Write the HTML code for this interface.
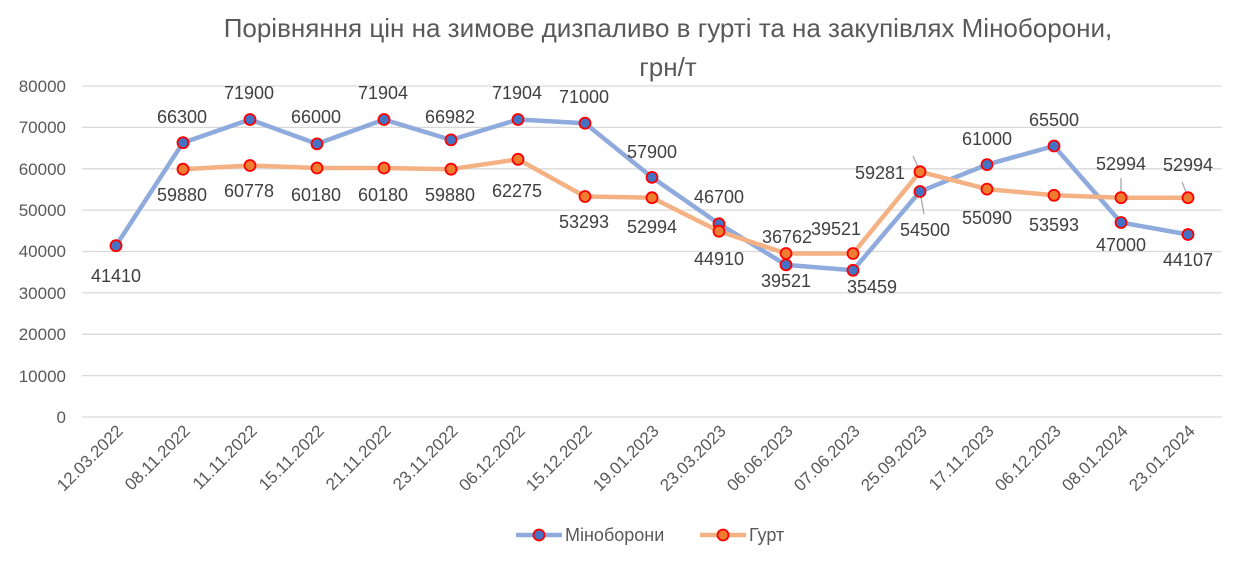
<!DOCTYPE html>
<html><head><meta charset="utf-8"><style>
body{margin:0;background:#fff;}
svg text{font-family:"Liberation Sans",sans-serif;}
</style></head><body>
<svg width="1236" height="556" viewBox="0 0 1236 556" xmlns="http://www.w3.org/2000/svg">
<rect width="1236" height="556" fill="#fff"/>
<text x="668" y="37" font-size="26" fill="#595959" text-anchor="middle">Порівняння цін на зимове дизпаливо в гурті та на закупівлях Міноборони,</text>
<text x="668" y="76" font-size="26" fill="#595959" text-anchor="middle">грн/т</text>
<g stroke="#d9d9d9" stroke-width="1.3">
<line x1="82" x2="1222" y1="86" y2="86"/><line x1="82" x2="1222" y1="127.4" y2="127.4"/>
<line x1="82" x2="1222" y1="168.8" y2="168.8"/><line x1="82" x2="1222" y1="210.1" y2="210.1"/>
<line x1="82" x2="1222" y1="251.5" y2="251.5"/><line x1="82" x2="1222" y1="292.9" y2="292.9"/>
<line x1="82" x2="1222" y1="334.3" y2="334.3"/><line x1="82" x2="1222" y1="375.6" y2="375.6"/>
<line x1="82" x2="1222" y1="417" y2="417"/>
</g>
<g font-size="17" fill="#595959" text-anchor="end">
<text x="66" y="92">80000</text><text x="66" y="133">70000</text><text x="66" y="175">60000</text>
<text x="66" y="216">50000</text><text x="66" y="257">40000</text><text x="66" y="299">30000</text>
<text x="66" y="340">20000</text><text x="66" y="382">10000</text><text x="66" y="423">0</text>
</g>
<g font-size="17" fill="#595959" text-anchor="end">
<text transform="translate(124,432) rotate(-45)">12.03.2022</text>
<text transform="translate(191,432) rotate(-45)">08.11.2022</text>
<text transform="translate(258,432) rotate(-45)">11.11.2022</text>
<text transform="translate(325,432) rotate(-45)">15.11.2022</text>
<text transform="translate(392,432) rotate(-45)">21.11.2022</text>
<text transform="translate(459,432) rotate(-45)">23.11.2022</text>
<text transform="translate(526,432) rotate(-45)">06.12.2022</text>
<text transform="translate(593,432) rotate(-45)">15.12.2022</text>
<text transform="translate(660,432) rotate(-45)">19.01.2023</text>
<text transform="translate(727,432) rotate(-45)">23.03.2023</text>
<text transform="translate(794,432) rotate(-45)">06.06.2023</text>
<text transform="translate(861,432) rotate(-45)">07.06.2023</text>
<text transform="translate(928,432) rotate(-45)">25.09.2023</text>
<text transform="translate(995,432) rotate(-45)">17.11.2023</text>
<text transform="translate(1062,432) rotate(-45)">06.12.2023</text>
<text transform="translate(1129,432) rotate(-45)">08.01.2024</text>
<text transform="translate(1196,432) rotate(-45)">23.01.2024</text>
</g>
<polyline fill="none" stroke="#8faadc" stroke-width="4.5" stroke-linejoin="round" points="116,245.7 183,142.7 250,119.5 317,143.9 384,119.5 451,139.9 518,119.5 585,123.2 652,177.4 719,223.8 786,264.9 853,270.3 920,191.5 987,164.6 1054,146 1121,222.5 1188,234.5"/>
<polyline fill="none" stroke="#f4b183" stroke-width="4.5" stroke-linejoin="round" points="183,169.2 250,165.5 317,168 384,168 451,169.2 518,159.3 585,196.5 652,197.7 719,231.2 786,253.5 853,253.5 920,171.7 987,189.1 1054,195.3 1121,197.7 1188,197.7"/>
<g stroke="#a6a6a6" stroke-width="1.3">
<line x1="920" y1="171" x2="913" y2="156"/><line x1="920" y1="192" x2="924" y2="214"/>
<line x1="1121" y1="197" x2="1121" y2="178"/><line x1="1188" y1="197" x2="1182" y2="182"/>
</g>
<g fill="#4472c4" stroke="#ff0000" stroke-width="1.8">
<circle cx="116" cy="245.7" r="5.5"/><circle cx="183" cy="142.7" r="5.5"/><circle cx="250" cy="119.5" r="5.5"/><circle cx="317" cy="143.9" r="5.5"/><circle cx="384" cy="119.5" r="5.5"/><circle cx="451" cy="139.9" r="5.5"/><circle cx="518" cy="119.5" r="5.5"/><circle cx="585" cy="123.2" r="5.5"/><circle cx="652" cy="177.4" r="5.5"/><circle cx="719" cy="223.8" r="5.5"/><circle cx="786" cy="264.9" r="5.5"/><circle cx="853" cy="270.3" r="5.5"/><circle cx="920" cy="191.5" r="5.5"/><circle cx="987" cy="164.6" r="5.5"/><circle cx="1054" cy="146" r="5.5"/><circle cx="1121" cy="222.5" r="5.5"/><circle cx="1188" cy="234.5" r="5.5"/>
</g>
<g fill="#ed7d31" stroke="#ff0000" stroke-width="1.8">
<circle cx="183" cy="169.2" r="5.5"/><circle cx="250" cy="165.5" r="5.5"/><circle cx="317" cy="168" r="5.5"/><circle cx="384" cy="168" r="5.5"/><circle cx="451" cy="169.2" r="5.5"/><circle cx="518" cy="159.3" r="5.5"/><circle cx="585" cy="196.5" r="5.5"/><circle cx="652" cy="197.7" r="5.5"/><circle cx="719" cy="231.2" r="5.5"/><circle cx="786" cy="253.5" r="5.5"/><circle cx="853" cy="253.5" r="5.5"/><circle cx="920" cy="171.7" r="5.5"/><circle cx="987" cy="189.1" r="5.5"/><circle cx="1054" cy="195.3" r="5.5"/><circle cx="1121" cy="197.7" r="5.5"/><circle cx="1188" cy="197.7" r="5.5"/>
</g>
<g font-size="18" fill="#404040" text-anchor="middle">
<text x="116" y="282">41410</text><text x="182" y="123">66300</text><text x="249" y="99">71900</text>
<text x="316" y="123">66000</text><text x="383" y="99">71904</text><text x="450" y="123">66982</text>
<text x="517" y="99">71904</text><text x="584" y="103">71000</text><text x="652" y="158">57900</text>
<text x="719" y="203">46700</text><text x="787" y="243">36762</text><text x="872" y="293">35459</text>
<text x="925" y="236">54500</text><text x="987" y="145">61000</text><text x="1054" y="126">65500</text>
<text x="1121" y="251">47000</text><text x="1188" y="266">44107</text>
<text x="182" y="201">59880</text><text x="249" y="197">60778</text><text x="316" y="201">60180</text>
<text x="383" y="201">60180</text><text x="450" y="201">59880</text><text x="517" y="197">62275</text>
<text x="584" y="228">53293</text><text x="652" y="233">52994</text><text x="719" y="265">44910</text>
<text x="786" y="287">39521</text><text x="836" y="235">39521</text><text x="880" y="179">59281</text>
<text x="987" y="224">55090</text><text x="1054" y="231">53593</text><text x="1121" y="170">52994</text>
<text x="1188" y="171">52994</text>
</g>
<line x1="516" y1="535" x2="562" y2="535" stroke="#8faadc" stroke-width="4.5"/>
<circle cx="539" cy="535" r="5.5" fill="#4472c4" stroke="#ff0000" stroke-width="1.8"/>
<text x="565" y="541" font-size="18" fill="#595959">Міноборони</text>
<line x1="700" y1="535" x2="746" y2="535" stroke="#f4b183" stroke-width="4.5"/>
<circle cx="723" cy="535" r="5.5" fill="#ed7d31" stroke="#ff0000" stroke-width="1.8"/>
<text x="749" y="541" font-size="18" fill="#595959">Гурт</text>
</svg>
</body></html>
